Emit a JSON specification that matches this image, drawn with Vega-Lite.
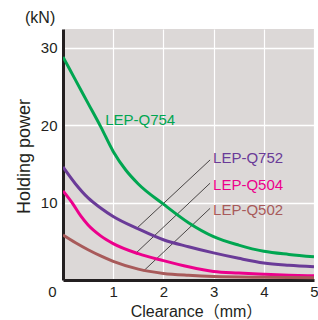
{
  "$schema": "https://vega.github.io/schema/vega-lite/v6.json",
  "width": 251,
  "height": 251,
  "autosize": {"type": "none"},
  "padding": {"left": 63, "top": 29, "right": 4, "bottom": 40},
  "background": "white",
  "title": {"text": "(kN)", "anchor": "start", "frame": "group", "dx": -38, "offset": 3, "fontSize": 16, "font": "Liberation Sans", "fontWeight": "normal", "color": "#231f20"},
  "config": {
    "view": {"fill": "#dcd8d7", "stroke": null},
    "font": "Liberation Sans"
  },
  "datasets": {
    "curves": [
      {"series": "LEP-Q754", "x": 0, "y": 28.8},
      {"series": "LEP-Q754", "x": 0.25, "y": 25.8},
      {"series": "LEP-Q754", "x": 0.5, "y": 22.8},
      {"series": "LEP-Q754", "x": 0.75, "y": 19.8},
      {"series": "LEP-Q754", "x": 1.0, "y": 16.6},
      {"series": "LEP-Q754", "x": 1.25, "y": 14.2},
      {"series": "LEP-Q754", "x": 1.5, "y": 12.4},
      {"series": "LEP-Q754", "x": 2.0, "y": 9.8},
      {"series": "LEP-Q754", "x": 2.5, "y": 7.4},
      {"series": "LEP-Q754", "x": 3.0, "y": 5.6},
      {"series": "LEP-Q754", "x": 3.5, "y": 4.5},
      {"series": "LEP-Q754", "x": 4.0, "y": 3.7},
      {"series": "LEP-Q754", "x": 4.5, "y": 3.3},
      {"series": "LEP-Q754", "x": 5.0, "y": 3.0},
      {"series": "LEP-Q752", "x": 0, "y": 14.6},
      {"series": "LEP-Q752", "x": 0.25, "y": 12.4},
      {"series": "LEP-Q752", "x": 0.5, "y": 10.6},
      {"series": "LEP-Q752", "x": 0.75, "y": 9.3},
      {"series": "LEP-Q752", "x": 1.0, "y": 8.2},
      {"series": "LEP-Q752", "x": 1.5, "y": 6.6},
      {"series": "LEP-Q752", "x": 2.0, "y": 5.2},
      {"series": "LEP-Q752", "x": 2.5, "y": 4.3},
      {"series": "LEP-Q752", "x": 3.0, "y": 3.5},
      {"series": "LEP-Q752", "x": 3.5, "y": 2.8},
      {"series": "LEP-Q752", "x": 4.0, "y": 2.2},
      {"series": "LEP-Q752", "x": 4.5, "y": 1.9},
      {"series": "LEP-Q752", "x": 5.0, "y": 1.7},
      {"series": "LEP-Q504", "x": 0, "y": 11.5},
      {"series": "LEP-Q504", "x": 0.2, "y": 9.8},
      {"series": "LEP-Q504", "x": 0.35, "y": 8.3},
      {"series": "LEP-Q504", "x": 0.5, "y": 7.1},
      {"series": "LEP-Q504", "x": 0.75, "y": 5.7},
      {"series": "LEP-Q504", "x": 1.0, "y": 4.7},
      {"series": "LEP-Q504", "x": 1.5, "y": 3.4},
      {"series": "LEP-Q504", "x": 2.0, "y": 2.5},
      {"series": "LEP-Q504", "x": 2.5, "y": 1.7},
      {"series": "LEP-Q504", "x": 3.0, "y": 1.1},
      {"series": "LEP-Q504", "x": 3.5, "y": 0.9},
      {"series": "LEP-Q504", "x": 4.0, "y": 0.75},
      {"series": "LEP-Q504", "x": 4.5, "y": 0.62},
      {"series": "LEP-Q504", "x": 5.0, "y": 0.55},
      {"series": "LEP-Q502", "x": 0, "y": 5.8},
      {"series": "LEP-Q502", "x": 0.25, "y": 4.8},
      {"series": "LEP-Q502", "x": 0.5, "y": 3.9},
      {"series": "LEP-Q502", "x": 0.75, "y": 3.1},
      {"series": "LEP-Q502", "x": 1.0, "y": 2.4},
      {"series": "LEP-Q502", "x": 1.5, "y": 1.4},
      {"series": "LEP-Q502", "x": 2.0, "y": 0.85},
      {"series": "LEP-Q502", "x": 2.5, "y": 0.6},
      {"series": "LEP-Q502", "x": 3.0, "y": 0.45},
      {"series": "LEP-Q502", "x": 4.0, "y": 0.35},
      {"series": "LEP-Q502", "x": 5.0, "y": 0.3}
    ],
    "labels": [
      {"series": "LEP-Q754", "x": 0.84, "y": 20.6},
      {"series": "LEP-Q752", "x": 2.99, "y": 15.8},
      {"series": "LEP-Q504", "x": 2.99, "y": 12.3},
      {"series": "LEP-Q502", "x": 2.99, "y": 9.0}
    ],
    "leaders": [
      {"x": 1.47, "y": 6.67, "x2": 2.93, "y2": 15.5},
      {"x": 1.45, "y": 3.45, "x2": 2.93, "y2": 12.5},
      {"x": 1.61, "y": 1.2, "x2": 2.93, "y2": 9.25}
    ]
  },
  "layer": [
    {
      "data": {"name": "leaders"},
      "mark": {"type": "rule", "color": "#231f20", "strokeWidth": 0.8},
      "encoding": {
        "x": {"field": "x", "type": "quantitative", "scale": {"domain": [0, 5], "nice": false}},
        "y": {"field": "y", "type": "quantitative", "scale": {"domain": [0, 32.4], "nice": false}},
        "x2": {"field": "x2"},
        "y2": {"field": "y2"}
      }
    },
    {
      "data": {"name": "curves"},
      "mark": {"type": "line", "interpolate": "monotone", "strokeWidth": 3, "clip": true},
      "encoding": {
        "x": {
          "field": "x", "type": "quantitative",
          "scale": {"domain": [0, 5], "nice": false},
          "axis": {
            "values": [0, 1, 2, 3, 4, 5],
            "title": "Clearance（mm）",
            "titleFont": "Liberation Sans, Noto Sans CJK JP",
            "titleFontSize": 16,
            "titleFontWeight": "normal",
            "titleColor": "#231f20",
            "titleX": 133,
            "titleY": 31,
            "titleBaseline": "middle",
            "labelFontSize": 15,
            "labelColor": "#231f20",
            "labelPadding": 4,
            "labelOffset": {"condition": {"test": "datum.value == 0", "value": -11}, "value": 0},
            "labelFlush": false,
            "labelOverlap": false,
            "tickSize": 0,
            "ticks": false,
            "domainColor": "#231f20",
            "domainWidth": 3,
            "gridColor": "white",
            "gridWidth": 1.2,
            "gridOpacity": 1
          }
        },
        "y": {
          "field": "y", "type": "quantitative",
          "scale": {"domain": [0, 32.4], "nice": false},
          "axis": {
            "values": [10, 20, 30],
            "title": "Holding power",
            "titleFontSize": 18,
            "titleFontWeight": "normal",
            "titleColor": "#231f20",
            "titleX": -30,
            "titleY": 127,
            "titleBaseline": "bottom",
            "titleAlign": "center",
            "labelFontSize": 15,
            "labelColor": "#231f20",
            "labelPadding": 6,
            "ticks": false,
            "tickSize": 0,
            "domainColor": "#231f20",
            "domainWidth": 3,
            "gridColor": "white",
            "gridWidth": 1.5,
            "gridOpacity": 1
          }
        },
        "color": {
          "field": "series", "type": "nominal",
          "scale": {"domain": ["LEP-Q754", "LEP-Q752", "LEP-Q504", "LEP-Q502"], "range": ["#00a651", "#6a3b98", "#ec008c", "#a85a5a"]},
          "legend": null
        },
        "detail": {"field": "series"}
      }
    },
    {
      "data": {"name": "labels"},
      "mark": {"type": "text", "align": "left", "baseline": "middle", "fontSize": 15, "font": "Liberation Sans"},
      "encoding": {
        "x": {"field": "x", "type": "quantitative"},
        "y": {"field": "y", "type": "quantitative"},
        "text": {"field": "series"},
        "color": {"field": "series", "type": "nominal", "legend": null}
      }
    }
  ]
}
